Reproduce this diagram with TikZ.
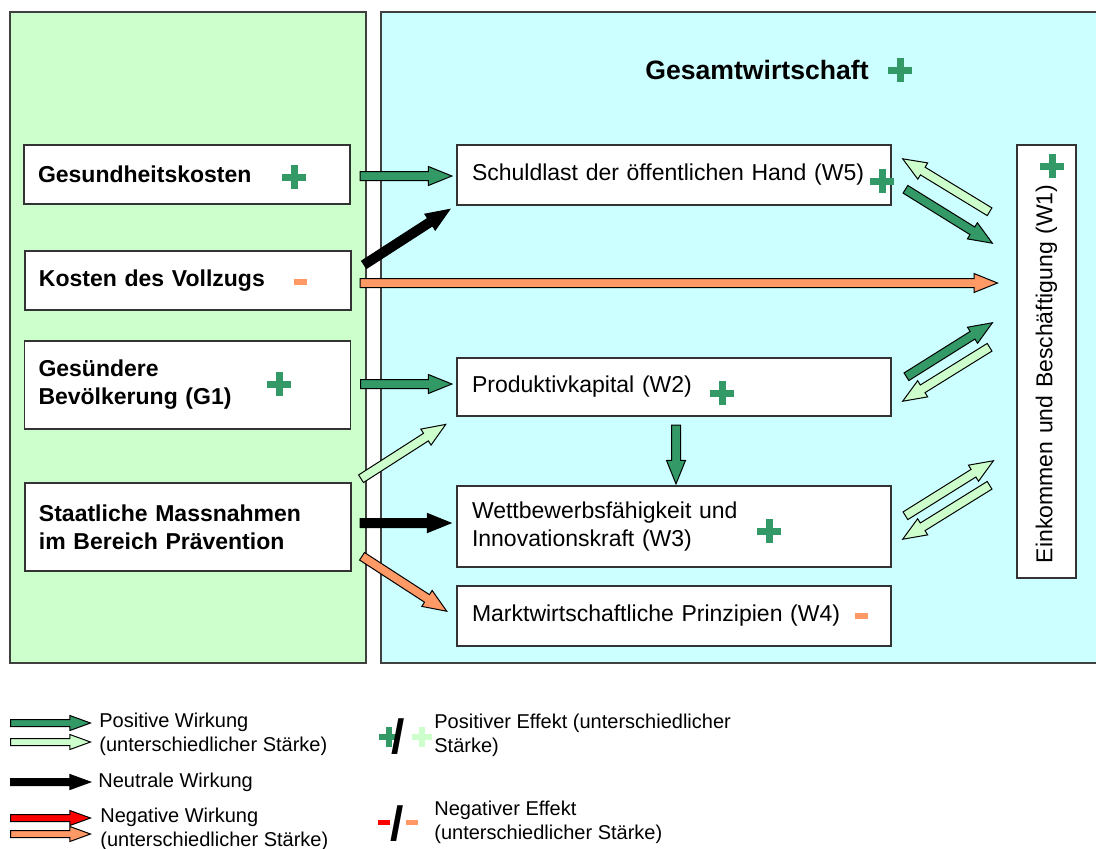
\documentclass[tikz,border=0pt]{standalone}
\usepackage{fontspec}
\setmainfont{Liberation Sans}
\usetikzlibrary{
  shapes.arrows,
  calc,
  positioning
}
\definecolor{posgreen}{RGB}{51,153,102}
\definecolor{lightgreen}{RGB}{204,255,204}
\definecolor{negorange}{RGB}{255,153,102}
\definecolor{panelcyan}{RGB}{204,255,255}
\newcommand{\plusmark}[2]{\rlap{\rule[\dimexpr(#1-#2)/2\relax]{#1}{#2}}%
  \hspace{\dimexpr(#1-#2)/2\relax}\rule{#2}{#1}\hspace{\dimexpr(#1-#2)/2\relax}}
\newcommand{\minusmark}[2]{\rule{#1}{#2}}

\begin{document}
\begin{tikzpicture}[x=0.5pt,y=-0.5pt,
      panel/.style={draw=black!75, line width=0.6pt},
      box/.style={
         rectangle,
         draw=black!80,
         line width=0.6pt,
         fill=white,
         inner ysep=0pt,
         align=left,
         font=\fontsize{11.5}{14}\selectfont
      },
      source/.style={box, inner xsep=7pt, text width=149pt,
         font=\fontsize{11.5}{14}\selectfont\bfseries},
      effect/.style={box, inner xsep=7.5pt, text width=202pt},
      sign/.style={inner sep=0pt},
      legend/.style={anchor=west, align=left, inner sep=0pt,
         font=\fontsize{10}{12}\selectfont},
      fat/.style={single arrow, draw=black, line width=0.5pt, inner sep=0pt,
         minimum width=0pt, single arrow head indent=0pt},
      bigtip/.style={fat, inner ysep=2pt, single arrow head extend=2.5pt,
         single arrow tip angle=44},
      smalltip/.style={fat, inner ysep=1.5pt, single arrow head extend=2pt,
         single arrow tip angle=40},
      blockarrow/.style={to path={
         let \p1=(\tikztostart), \p2=(\tikztotarget),
             \n1={atan2(\y2-\y1,\x2-\x1)}, \n2={veclen(\x2-\x1,\y2-\y1)} in
         node[bigtip, fill=#1, minimum height=\n2, rotate=\n1, anchor=tail] at (\p1) {}}}
    ]
    \useasboundingbox (0,0) rectangle (1096,848);
    \draw[panel, fill=lightgreen] (10,12) rectangle (366,663);
    \draw[panel, fill=panelcyan] (381,12) rectangle (1110,663);

    \node (n12) [anchor=west, inner sep=0pt, font=\fontsize{13.3}{16}\selectfont\bfseries] at (645,70) {Gesamtwirtschaft};
    \node (s12) [sign, text=posgreen] at (896,70) {\plusmark{12pt}{3.5pt}};

    \node (n21) [source, minimum height=29.5pt] at (187,174.5) {Gesundheitskosten};
    \node (n31) [source, minimum height=29.5pt] at (188,280.5) {Kosten des Vollzugs};
    \node (n41) [source, minimum height=44pt] at (187.5,385) {Gesündere\\Bevölkerung (G1)};
    \node (n51) [source, minimum height=44pt] at (188,527) {Staatliche Massnahmen\\im Bereich Prävention};

    \node (n22) [effect, minimum height=30pt] at (674,175) {Schuldlast der öffentlichen Hand (W5)};
    \node (n42) [effect, minimum height=29pt] at (674,387) {Produktivkapital (W2)};
    \node (n52) [effect, minimum height=40.5pt] at (674,526.5) {Wettbewerbsfähigkeit und\\Innovationskraft (W3)};
    \node (n62) [effect, minimum height=30pt] at (674,616) {Marktwirtschaftliche Prinzipien (W4)};
    \node (n23) [box, rotate=90, inner xsep=7.5pt, text width=201.5pt, minimum height=29.5pt]
       at (1046.5,361.5) {Einkommen und Beschäftigung (W1)};

    \node (s21) [sign, text=posgreen] at (290,177) {\plusmark{12pt}{3.5pt}};
    \node (s31) [sign, text=negorange] at (300,282) {\minusmark{6.5pt}{3pt}};
    \node (s41) [sign, text=posgreen] at (275,384) {\plusmark{12pt}{3.5pt}};
    \node (s22) [sign, text=posgreen] at (878,181) {\plusmark{12pt}{3.5pt}};
    \node (s42) [sign, text=posgreen] at (718,393) {\plusmark{12pt}{3.5pt}};
    \node (s52) [sign, text=posgreen] at (765,531) {\plusmark{12pt}{3.5pt}};
    \node (s62) [sign, text=negorange] at (861,616) {\minusmark{6.5pt}{3pt}};
    \node (s23) [sign, text=posgreen] at (1048,166) {\plusmark{12pt}{3.5pt}};

    % free ends of the connectors
    \foreach \p/\x/\y in {p1/997/283, q1/990/212, q2/903/159, q3/905/189, q4/992/243,
        q5/906/377, q6/992/323, q7/990/347, q8/903/401, q9/905/516, q10/993/461,
        q11/990/485, q12/903/539}
      \coordinate (\p) at (\x,\y);

    \path ($(n21.east)+(9,1.5)$) to[blockarrow=posgreen] ($(n22.west)+(-5,1)$);
    \path ($(n31.east)+(12,-15.5)$) to[blockarrow=black] ($(n22.south west)+(-7,4)$);
    \path ($(n31.east)+(8,2.5)$) to[blockarrow=negorange] (p1);
    \path ($(n41.east)+(9,-1)$) to[blockarrow=posgreen] ($(n42.west)+(-5,-3)$);
    \path ($(n51.east)+(9,-48)$) to[blockarrow=lightgreen] ($(n42.south west)+(-11,8)$);
    \path ($(n51.east)+(8,-4)$) to[blockarrow=black] ($(n52.west)+(-6,-3.5)$);
    \path ($(n51.east)+(10,29)$) to[blockarrow=negorange] ($(n62.west)+(-10,-5)$);
    \path ($(n42.south)+(2,8)$) to[blockarrow=posgreen] ($(n52.north)+(2,-2)$);

    \path (q1) to[blockarrow=lightgreen] (q2);
    \path (q3) to[blockarrow=posgreen] (q4);
    \path (q5) to[blockarrow=posgreen] (q6);
    \path (q7) to[blockarrow=lightgreen] (q8);
    \path (q9) to[blockarrow=lightgreen] (q10);
    \path (q11) to[blockarrow=lightgreen] (q12);

    % legend
    \node (k1) [smalltip, fill=posgreen, minimum height=40pt, anchor=tail] at (10,723) {};
    \node (k2) [smalltip, fill=lightgreen, minimum height=40pt, anchor=tail] at (10,742) {};
    \node (k3) [smalltip, fill=black, minimum height=40pt, anchor=tail] at (10,782) {};
    \node (k4) [smalltip, fill=red, minimum height=40pt, anchor=tail] at (10,818) {};
    \node (k5) [smalltip, fill=negorange, minimum height=40pt, anchor=tail] at (10,834) {};
    \node (t1) [legend] at (99,734.5) {Positive Wirkung\\(unterschiedlicher Stärke)};
    \node (t2) [legend] at (98,782) {Neutrale Wirkung};
    \node (t3) [legend] at (100,829) {Negative Wirkung\\(unterschiedlicher Stärke)};

    \node (m1) [sign, text=posgreen] at (385,737) {\plusmark{10pt}{3pt}};
    \node (m2) [sign, font=\fontsize{24}{24}\selectfont\bfseries] at (398,737) {/};
    \node (m3) [sign, text=lightgreen] at (418,737) {\plusmark{10pt}{3pt}};
    \node (m4) [sign, text=red] at (384,822) {\minusmark{6pt}{2.5pt}};
    \node (m5) [sign, font=\fontsize{24}{24}\selectfont\bfseries] at (397,824) {/};
    \node (m6) [sign, text=negorange] at (412,822) {\minusmark{6pt}{2.5pt}};
    \node (t4) [legend] at (434,735.5) {Positiver Effekt (unterschiedlicher\\Stärke)};
    \node (t5) [legend] at (434,822.5) {Negativer Effekt\\(unterschiedlicher Stärke)};
\end{tikzpicture}
\end{document}
